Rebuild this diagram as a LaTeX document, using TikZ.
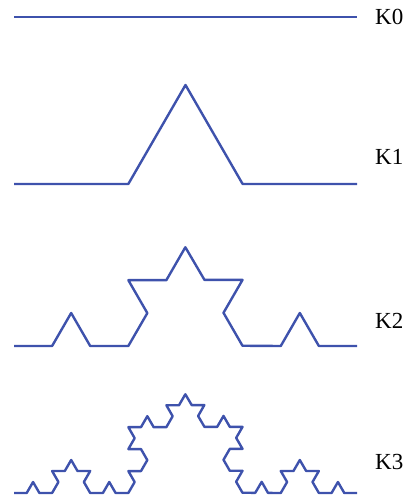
\documentclass[tikz,border=0pt]{standalone}
\usepackage{fontspec}
\setmainfont{Liberation Serif}
\usepackage{tikz}
\usetikzlibrary{decorations.fractals}
\definecolor{kochblue}{RGB}{62,82,172}

\begin{document}
\begin{tikzpicture}[x=1pt,y=-1pt,
  koch/.style={kochblue,line width=2.4pt,line join=round,decoration=Koch snowflake},
  lbl/.style={anchor=west,inner sep=0pt,font=\fontsize{23}{27}\selectfont}]
\useasboundingbox (0,0) rectangle (411,499);
% level 0
\draw[koch] (14,17) -- (357,17);
\node[lbl] (k0) at (375,17) {K0};
% level 1
\draw[koch] decorate{(14,184) -- (357,184)};
\node[lbl] (k1) at (375,157) {K1};
% level 2
\draw[koch] decorate{decorate{(14,346) -- (357,346)}};
\node[lbl] (k2) at (375,321) {K2};
% level 3
\draw[koch] decorate{decorate{decorate{(14,493) -- (357,493)}}};
\node[lbl] (k3) at (375,462) {K3};
\end{tikzpicture}
\end{document}
